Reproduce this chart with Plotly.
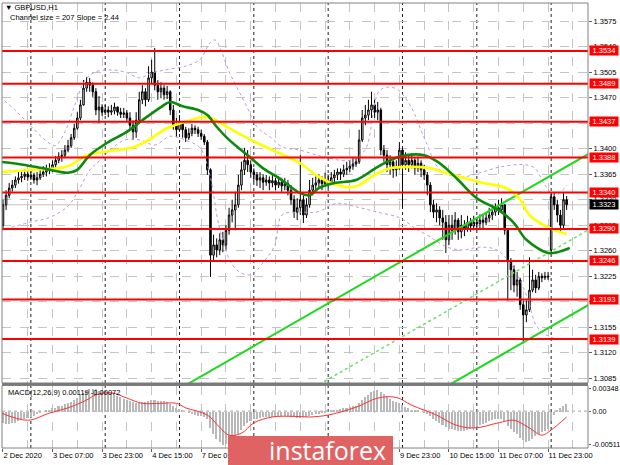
import plotly.graph_objects as go

FONT = "Tahoma, 'Liberation Sans', Arial, sans-serif"

symbol_title = "\u25BC GBPUSD,H1"
channel_text = "Channel size = 207 Slope = 2.44"
macd_text = "MACD(12,26,9) 0.00119 -0.00072"
watermark_text = "instaforex"

x_tick_bars = [0, 16, 32, 48, 64, 80, 96, 112, 128, 144, 160, 176]
x_tick_labels = ["2 Dec 2020", "3 Dec 07:00", "3 Dec 23:00", "4 Dec 15:00", "7 Dec 07:00",
                 "7 Dec 23:00", "8 Dec 15:00", "9 Dec 07:00", "9 Dec 23:00", "10 Dec 15:00",
                 "11 Dec 07:00", "11 Dec 23:00"]
minor_grid_bars = [8, 24, 40, 56, 72, 88, 104, 120, 136, 152, 168, 184]
day_bars = [9, 33, 57, 81, 105, 129, 153, 177]

price_ticks = [1.3575, 1.3540, 1.3505, 1.3470, 1.3435, 1.3400, 1.3365, 1.3330, 1.3295,
               1.3260, 1.3225, 1.3190, 1.3155, 1.3120, 1.3085]
levels = [1.3534, 1.3489, 1.3437, 1.3388, 1.3340, 1.3290, 1.3246, 1.3193, 1.3139]
last_price = 1.3323

macd_ticks = [0.00348, 0.0, -0.00511]
macd_tick_text = ["0.00348", "0.00", "-0.00511"]

opens = [
    1.3295, 1.3323, 1.3336, 1.3346, 1.3350, 1.3357, 1.3360, 1.3362, 1.3365, 1.3361,
    1.3364, 1.3357, 1.3360, 1.3365, 1.3368, 1.3371, 1.3373, 1.3378, 1.3384, 1.3389,
    1.3391, 1.3398, 1.3404, 1.3415, 1.3428, 1.3442, 1.3460, 1.3483, 1.3491, 1.3487,
    1.3478, 1.3453, 1.3457, 1.3450, 1.3453, 1.3450, 1.3452, 1.3457, 1.3450, 1.3447,
    1.3449, 1.3442, 1.3432, 1.3423, 1.3439, 1.3467, 1.3478, 1.3467, 1.3497, 1.3505,
    1.3487, 1.3478, 1.3483, 1.3474, 1.3478, 1.3453, 1.3432, 1.3426, 1.3437, 1.3426,
    1.3415, 1.3421, 1.3428, 1.3426, 1.3421, 1.3417, 1.3409, 1.3371, 1.3254, 1.3268,
    1.3261, 1.3275, 1.3268, 1.3288, 1.3309, 1.3316, 1.3323, 1.3350, 1.3371, 1.3384,
    1.3378, 1.3368, 1.3364, 1.3357, 1.3360, 1.3354, 1.3357, 1.3353, 1.3356, 1.3350,
    1.3354, 1.3349, 1.3352, 1.3343, 1.3330, 1.3313, 1.3319, 1.3330, 1.3309, 1.3323,
    1.3343, 1.3350, 1.3353, 1.3357, 1.3352, 1.3357, 1.3354, 1.3360, 1.3364, 1.3368,
    1.3365, 1.3371, 1.3373, 1.3376, 1.3379, 1.3382, 1.3412, 1.3442, 1.3446, 1.3453,
    1.3460, 1.3450, 1.3453, 1.3398, 1.3391, 1.3378, 1.3382, 1.3371, 1.3373, 1.3398,
    1.3378, 1.3384, 1.3378, 1.3384, 1.3373, 1.3380, 1.3371, 1.3364, 1.3350, 1.3323,
    1.3313, 1.3316, 1.3305, 1.3299, 1.3275, 1.3295, 1.3288, 1.3302, 1.3286, 1.3295,
    1.3291, 1.3299, 1.3294, 1.3299, 1.3297, 1.3302, 1.3299, 1.3305, 1.3309, 1.3313,
    1.3319, 1.3316, 1.3323, 1.3288, 1.3245, 1.3234, 1.3213, 1.3220, 1.3186, 1.3172,
    1.3179, 1.3206, 1.3220, 1.3209, 1.3225, 1.3223, 1.3225, 1.3261, 1.3334, 1.3323,
    1.3309, 1.3295, 1.3330]

highs = [
    1.3330, 1.3343, 1.3353, 1.3357, 1.3362, 1.3368, 1.3369, 1.3372, 1.3369, 1.3371,
    1.3367, 1.3368, 1.3371, 1.3376, 1.3378, 1.3380, 1.3384, 1.3390, 1.3395, 1.3398,
    1.3405, 1.3412, 1.3420, 1.3434, 1.3450, 1.3467, 1.3494, 1.3498, 1.3497, 1.3491,
    1.3483, 1.3472, 1.3461, 1.3460, 1.3458, 1.3460, 1.3463, 1.3458, 1.3456, 1.3456,
    1.3453, 1.3450, 1.3439, 1.3450, 1.3478, 1.3487, 1.3483, 1.3513, 1.3522, 1.3538,
    1.3494, 1.3491, 1.3487, 1.3486, 1.3480, 1.3460, 1.3442, 1.3446, 1.3437, 1.3430,
    1.3428, 1.3434, 1.3432, 1.3430, 1.3426, 1.3420, 1.3412, 1.3373, 1.3282, 1.3277,
    1.3284, 1.3286, 1.3295, 1.3319, 1.3330, 1.3341, 1.3364, 1.3382, 1.3401, 1.3398,
    1.3384, 1.3373, 1.3368, 1.3368, 1.3365, 1.3364, 1.3362, 1.3364, 1.3360, 1.3362,
    1.3360, 1.3360, 1.3357, 1.3350, 1.3336, 1.3332, 1.3391, 1.3336, 1.3332, 1.3357,
    1.3360, 1.3362, 1.3365, 1.3362, 1.3367, 1.3364, 1.3368, 1.3371, 1.3373, 1.3373,
    1.3378, 1.3382, 1.3384, 1.3387, 1.3387, 1.3426, 1.3453, 1.3460, 1.3467, 1.3478,
    1.3467, 1.3464, 1.3456, 1.3405, 1.3398, 1.3391, 1.3384, 1.3384, 1.3409, 1.3401,
    1.3395, 1.3391, 1.3394, 1.3387, 1.3389, 1.3384, 1.3378, 1.3368, 1.3354, 1.3330,
    1.3325, 1.3321, 1.3316, 1.3309, 1.3309, 1.3309, 1.3313, 1.3305, 1.3309, 1.3302,
    1.3308, 1.3305, 1.3308, 1.3306, 1.3310, 1.3309, 1.3313, 1.3319, 1.3323, 1.3325,
    1.3330, 1.3332, 1.3323, 1.3291, 1.3250, 1.3240, 1.3231, 1.3223, 1.3192, 1.3192,
    1.3251, 1.3234, 1.3227, 1.3231, 1.3229, 1.3231, 1.3231, 1.3339, 1.3339, 1.3330,
    1.3316, 1.3339, 1.3335]

lows = [
    1.3288, 1.3316, 1.3332, 1.3341, 1.3346, 1.3352, 1.3354, 1.3357, 1.3356, 1.3357,
    1.3352, 1.3350, 1.3357, 1.3361, 1.3362, 1.3365, 1.3368, 1.3373, 1.3380, 1.3382,
    1.3387, 1.3395, 1.3401, 1.3412, 1.3426, 1.3439, 1.3459, 1.3478, 1.3478, 1.3471,
    1.3446, 1.3435, 1.3445, 1.3446, 1.3443, 1.3446, 1.3447, 1.3445, 1.3442, 1.3442,
    1.3437, 1.3426, 1.3412, 1.3415, 1.3434, 1.3461, 1.3458, 1.3464, 1.3489, 1.3480,
    1.3467, 1.3469, 1.3467, 1.3468, 1.3446, 1.3426, 1.3416, 1.3423, 1.3415, 1.3409,
    1.3412, 1.3417, 1.3420, 1.3416, 1.3412, 1.3405, 1.3364, 1.3224, 1.3247, 1.3251,
    1.3254, 1.3258, 1.3261, 1.3282, 1.3299, 1.3288, 1.3319, 1.3343, 1.3364, 1.3368,
    1.3360, 1.3354, 1.3349, 1.3346, 1.3343, 1.3349, 1.3343, 1.3347, 1.3343, 1.3346,
    1.3341, 1.3343, 1.3336, 1.3323, 1.3305, 1.3302, 1.3309, 1.3298, 1.3305, 1.3319,
    1.3336, 1.3343, 1.3346, 1.3343, 1.3349, 1.3346, 1.3352, 1.3354, 1.3357, 1.3357,
    1.3361, 1.3364, 1.3368, 1.3371, 1.3375, 1.3379, 1.3409, 1.3432, 1.3439, 1.3442,
    1.3442, 1.3439, 1.3391, 1.3382, 1.3368, 1.3364, 1.3360, 1.3362, 1.3371, 1.3320,
    1.3371, 1.3368, 1.3373, 1.3364, 1.3368, 1.3361, 1.3357, 1.3336, 1.3313, 1.3305,
    1.3299, 1.3295, 1.3275, 1.3257, 1.3268, 1.3275, 1.3282, 1.3275, 1.3277, 1.3280,
    1.3286, 1.3286, 1.3288, 1.3288, 1.3291, 1.3291, 1.3295, 1.3299, 1.3302, 1.3308,
    1.3309, 1.3313, 1.3282, 1.3192, 1.3206, 1.3203, 1.3197, 1.3179, 1.3133, 1.3162,
    1.3176, 1.3203, 1.3202, 1.3206, 1.3217, 1.3220, 1.3220, 1.3258, 1.3316, 1.3299,
    1.3286, 1.3291, 1.3316]

closes = [
    1.3323, 1.3336, 1.3346, 1.3350, 1.3357, 1.3360, 1.3362, 1.3365, 1.3361, 1.3364,
    1.3357, 1.3360, 1.3365, 1.3368, 1.3371, 1.3373, 1.3378, 1.3384, 1.3389, 1.3391,
    1.3398, 1.3404, 1.3415, 1.3428, 1.3442, 1.3460, 1.3483, 1.3491, 1.3487, 1.3478,
    1.3453, 1.3457, 1.3450, 1.3453, 1.3450, 1.3452, 1.3457, 1.3450, 1.3447, 1.3449,
    1.3442, 1.3432, 1.3423, 1.3439, 1.3467, 1.3478, 1.3467, 1.3497, 1.3505, 1.3487,
    1.3478, 1.3483, 1.3474, 1.3478, 1.3453, 1.3432, 1.3426, 1.3437, 1.3426, 1.3415,
    1.3421, 1.3428, 1.3426, 1.3421, 1.3417, 1.3409, 1.3371, 1.3254, 1.3268, 1.3261,
    1.3275, 1.3268, 1.3288, 1.3309, 1.3316, 1.3323, 1.3350, 1.3371, 1.3384, 1.3378,
    1.3368, 1.3364, 1.3357, 1.3360, 1.3354, 1.3357, 1.3353, 1.3356, 1.3350, 1.3354,
    1.3349, 1.3352, 1.3343, 1.3330, 1.3313, 1.3319, 1.3330, 1.3309, 1.3323, 1.3343,
    1.3350, 1.3353, 1.3357, 1.3352, 1.3357, 1.3354, 1.3360, 1.3364, 1.3368, 1.3365,
    1.3371, 1.3373, 1.3376, 1.3379, 1.3382, 1.3412, 1.3442, 1.3446, 1.3453, 1.3460,
    1.3450, 1.3453, 1.3398, 1.3391, 1.3378, 1.3382, 1.3371, 1.3373, 1.3398, 1.3378,
    1.3384, 1.3378, 1.3384, 1.3373, 1.3380, 1.3371, 1.3364, 1.3350, 1.3323, 1.3313,
    1.3316, 1.3305, 1.3299, 1.3275, 1.3295, 1.3288, 1.3302, 1.3286, 1.3295, 1.3291,
    1.3299, 1.3294, 1.3299, 1.3297, 1.3302, 1.3299, 1.3305, 1.3309, 1.3313, 1.3319,
    1.3316, 1.3323, 1.3288, 1.3245, 1.3234, 1.3213, 1.3220, 1.3186, 1.3172, 1.3179,
    1.3206, 1.3220, 1.3209, 1.3225, 1.3223, 1.3225, 1.3224, 1.3334, 1.3323, 1.3309,
    1.3295, 1.3330, 1.3323]

bar_index = list(range(len(closes)))

# moving averages (sampled along the chart)
yellow_bars = [-1, 10, 21, 27, 35, 42, 47, 53, 59, 64, 67, 73, 80, 87, 96, 101, 106, 112,
               115, 120, 125, 131, 138, 143, 154, 163, 167, 170, 176, 182]
yellow_vals = [1.3368, 1.3371, 1.3376, 1.3391, 1.3397, 1.3402, 1.3412, 1.3428, 1.3437, 1.3443,
               1.3442, 1.3428, 1.3412, 1.3398, 1.3380, 1.3364, 1.3353, 1.3347, 1.3350, 1.3364,
               1.3373, 1.3375, 1.3373, 1.3367, 1.3354, 1.3345, 1.3330, 1.3309, 1.3292, 1.3283]
green_bars = [-1, 5, 13, 21, 24, 28, 34, 40, 45, 51, 54, 58, 63, 66, 69, 73, 79, 84, 89, 96,
              99, 102, 107, 114, 121, 128, 136, 141, 147, 153, 160, 165, 169, 176, 179, 183]
green_vals = [1.3382, 1.3379, 1.3373, 1.3367, 1.3371, 1.3391, 1.3409, 1.3423, 1.3439, 1.3457,
              1.3464, 1.3458, 1.3453, 1.3446, 1.3430, 1.3412, 1.3391, 1.3373, 1.3360, 1.3339,
              1.3336, 1.3346, 1.3353, 1.3357, 1.3375, 1.3389, 1.3391, 1.3380, 1.3357, 1.3332,
              1.3316, 1.3298, 1.3275, 1.3257, 1.3258, 1.3264]

# envelope bands
band_up_bars = [-1, 3.9, 8.7, 13.6, 16.8, 20, 23.2, 26.5, 29.7, 34.5, 39.4, 44.2, 47.5, 52.3,
                58.8, 63.6, 66.8, 68.5, 73.3, 78.8, 82, 86.2, 90.4, 95.9, 103.3, 112, 116.9,
                121.7, 126.6, 131.4, 136.3, 141.1, 147.6, 154, 160.5, 168.5, 171.8, 175, 178.2, 182.1]
band_up_vals = [1.3471, 1.3453, 1.3432, 1.3412, 1.3404, 1.3423, 1.3460, 1.3494, 1.3505, 1.3508,
                1.3505, 1.3497, 1.3503, 1.3508, 1.3513, 1.3522, 1.3545, 1.3549, 1.3503, 1.3457,
                1.3430, 1.3416, 1.3402, 1.3398, 1.3389, 1.3384, 1.3398, 1.3480, 1.3483, 1.3460,
                1.3412, 1.3371, 1.3361, 1.3367, 1.3375, 1.3378, 1.3373, 1.3350, 1.3336, 1.3350]
band_lo_bars = [-1, 8.7, 15.2, 20.7, 23.9, 28.1, 31.3, 34.5, 39.4, 44.2, 49.1, 53.9, 58.8,
                63.6, 66.8, 70.1, 74.9, 79.8, 84.6, 87.8, 90.1, 95.9, 101.4, 107.8, 114.3,
                120.8, 128.2, 133, 137.9, 143.4, 148.5, 154, 159.5, 164.7, 169.2, 172.4, 176.6, 182.1]
band_lo_vals = [1.3288, 1.3299, 1.3306, 1.3320, 1.3339, 1.3371, 1.3384, 1.3398, 1.3412, 1.3412,
                1.3405, 1.3417, 1.3412, 1.3401, 1.3364, 1.3288, 1.3236, 1.3227, 1.3247, 1.3268,
                1.3309, 1.3313, 1.3313, 1.3325, 1.3320, 1.3313, 1.3305, 1.3291, 1.3279, 1.3265,
                1.3261, 1.3265, 1.3261, 1.3237, 1.3197, 1.3156, 1.3142, 1.3138]

# regression channel
channel_bars = [55, 190]
channel_upper = [1.3066, 1.3395]
channel_mid = [1.2962, 1.3291]
channel_lower = [1.2859, 1.3188]

# MACD
macd_hist = [
    -0.0018, -0.0019, -0.0019, -0.0018, -0.0017, -0.0015,
    -0.0013, -0.0011, -0.0010, -0.0008, -0.0006,
    -0.0004, -0.0002, 0.0000,
    0.0002, 0.0003, 0.0005, 0.0006, 0.0008, 0.0009, 0.0011,
    0.0013, 0.0015, 0.0018, 0.0021, 0.0025, 0.0029, 0.0032,
    0.0034, 0.0035, 0.0034, 0.0032, 0.0031, 0.0030, 0.0029, 0.0028,
    0.0026, 0.0024, 0.0022, 0.0020, 0.0018, 0.0016, 0.0014, 0.0013, 0.0013, 0.0014, 0.0015,
    0.0017, 0.0018, 0.0018, 0.0017, 0.0016, 0.0016, 0.0014, 0.0012,
    0.0009, 0.0006, 0.0004, 0.0002, 0.0000, -0.0002,
    -0.0004, -0.0005, -0.0006, -0.0007, -0.0008,
    -0.0012, -0.0025, -0.0035, -0.0042, -0.0047, -0.0051, -0.0050, -0.0048, -0.0045,
    -0.0040, -0.0034, -0.0028, -0.0022, -0.0017, -0.0014,
    -0.0012, -0.0011, -0.0010, -0.0009, -0.0009, -0.0008, -0.0008, -0.0008, -0.0007, -0.0007,
    -0.0007, -0.0007, -0.0008, -0.0009, -0.0010, -0.0010, -0.0009, -0.0008, -0.0007,
    -0.0005, -0.0004, -0.0003, -0.0002, -0.0001, 0.0000,
    0.0001, 0.0002, 0.0003, 0.0004, 0.0005, 0.0006, 0.0007, 0.0008, 0.0009,
    0.0013, 0.0018, 0.0022, 0.0026, 0.0030, 0.0032, 0.0033, 0.0030,
    0.0027, 0.0024, 0.0020, 0.0017, 0.0015, 0.0013, 0.0010, 0.0007,
    0.0005, 0.0003, 0.0002, 0.0001, 0.0000, -0.0001, -0.0003,
    -0.0007, -0.0011, -0.0014, -0.0017, -0.0020, -0.0024, -0.0026, -0.0027, -0.0028, -0.0029,
    -0.0029, -0.0029, -0.0028,
    -0.0027, -0.0025, -0.0023, -0.0021, -0.0019, -0.0017, -0.0015, -0.0013, -0.0012, -0.0011,
    -0.0011, -0.0015, -0.0022, -0.0027, -0.0032, -0.0035, -0.0040, -0.0044, -0.0046, -0.0045,
    -0.0042, -0.0038, -0.0035, -0.0032, -0.0029, -0.0027,
    -0.0015, -0.0005, 0.0002, 0.0005, 0.0009, 0.0012]
signal_bars = [-1, 8, 15, 21, 27, 30, 35, 40, 45, 51, 56, 59, 66, 70, 73, 77, 81, 87, 94, 99,
               105, 114, 121, 127, 132, 140, 146, 152, 160, 165, 170, 174, 177, 182]
signal_vals = [-0.0002, -0.0014, -0.0003, 0.0005, 0.0017, 0.0025, 0.0028, 0.0020, 0.0012, 0.0012,
               0.0012, 0.0005, -0.0006, -0.0025, -0.0037, -0.0034, -0.0018, -0.0009, -0.0008, -0.0009,
               -0.0006, 0.0006, 0.0020, 0.0021, 0.0009, -0.0006, -0.0021, -0.0026, -0.0018, -0.0014,
               -0.0026, -0.0037, -0.0029, -0.0009]

# ---------------------------------------------------------------- layout constants
W, H = 620, 465
ML, MR, MT, MB = 2, 32, 3, 17
PW, PH = W - ML - MR, H - MT - MB
MAIN_DOM = [0.1461, 1.0]
MACD_DOM = [0.0, 0.1404]
X_RANGE = [-0.32, 188.9]
Y_RANGE = [1.30787, 1.35997]
Y2_RANGE = [-0.00566, 0.00393]
GRID = "#c4c4c4"
TXT = "#000000"
BAND = "#bf96e0"


def px(xp):
    return (xp - ML) / PW


def py(yp):
    return (H - MB - yp) / PH


fig = go.Figure()

# bands
fig.add_trace(go.Scatter(x=band_up_bars, y=band_up_vals, mode="lines",
                         line=dict(color=BAND, width=1, dash="dot", shape="spline"),
                         hoverinfo="skip", showlegend=False))
fig.add_trace(go.Scatter(x=band_lo_bars, y=band_lo_vals, mode="lines",
                         line=dict(color=BAND, width=1, dash="dot", shape="spline"),
                         hoverinfo="skip", showlegend=False))

# channel lines
fig.add_trace(go.Scatter(x=channel_bars, y=channel_mid, mode="lines",
                         line=dict(color="#66e066", width=1.5, dash="dot"),
                         hoverinfo="skip", showlegend=False))
fig.add_trace(go.Scatter(x=channel_bars, y=channel_upper, mode="lines",
                         line=dict(color="#1fd81f", width=2),
                         hoverinfo="skip", showlegend=False))
fig.add_trace(go.Scatter(x=channel_bars, y=channel_lower, mode="lines",
                         line=dict(color="#1fd81f", width=2),
                         hoverinfo="skip", showlegend=False))

# candles
fig.add_trace(go.Candlestick(
    x=bar_index, open=opens, high=highs, low=lows, close=closes,
    increasing=dict(line=dict(color="black", width=1), fillcolor="white"),
    decreasing=dict(line=dict(color="black", width=1), fillcolor="black"),
    whiskerwidth=0, showlegend=False, hoverinfo="skip"))

# moving averages
fig.add_trace(go.Scatter(x=yellow_bars, y=yellow_vals, mode="lines",
                         line=dict(color="#ffff00", width=2.6, shape="spline"),
                         hoverinfo="skip", showlegend=False))
fig.add_trace(go.Scatter(x=green_bars, y=green_vals, mode="lines",
                         line=dict(color="#0b8a0b", width=2.6, shape="spline"),
                         hoverinfo="skip", showlegend=False))

# MACD
fig.add_trace(go.Bar(x=bar_index, y=macd_hist, yaxis="y2", width=0.5,
                     marker=dict(color="#b8b8b8", line=dict(width=0)),
                     hoverinfo="skip", showlegend=False))
fig.add_trace(go.Scatter(x=signal_bars, y=signal_vals, yaxis="y2", mode="lines",
                         line=dict(color="#ff3030", width=1, shape="spline"),
                         hoverinfo="skip", showlegend=False))

shapes = []
# day separators
for b in day_bars:
    for ref in ("y domain", "y2 domain"):
        shapes.append(dict(type="line", xref="x", yref=ref, x0=b, x1=b, y0=0, y1=1,
                           line=dict(color="#202020", width=1, dash="dot"), layer="below"))
# bid line
shapes.append(dict(type="line", xref="x domain", yref="y", x0=0, x1=1, y0=last_price,
                   y1=last_price, line=dict(color="#c0c0c0", width=1), layer="below"))
# MACD zero line
shapes.append(dict(type="line", xref="x domain", yref="y2", x0=0, x1=1, y0=0, y1=0,
                   line=dict(color="#a0a0a0", width=1, dash="dot"), layer="below"))
# horizontal levels
for lv in levels:
    shapes.append(dict(type="line", xref="x domain", yref="y", x0=0, x1=1, y0=lv, y1=lv,
                       line=dict(color="#ff0000", width=2), layer="above"))
# panel borders
shapes.append(dict(type="rect", xref="paper", yref="paper", x0=0, x1=1,
                   y0=MAIN_DOM[0], y1=MAIN_DOM[1], line=dict(color="#808080", width=1),
                   layer="above"))
shapes.append(dict(type="rect", xref="paper", yref="paper", x0=0, x1=1,
                   y0=MACD_DOM[0], y1=MACD_DOM[1], line=dict(color="#808080", width=1),
                   layer="above"))
shapes.append(dict(type="rect", xref="paper", yref="paper", x0=0, x1=1,
                   y0=MACD_DOM[1], y1=MAIN_DOM[0], line=dict(width=0),
                   fillcolor="#7a7a7a", layer="above"))
# watermark
shapes.append(dict(type="rect", xref="paper", yref="paper", x0=px(228), x1=px(393),
                   y0=py(472), y1=py(436), line=dict(width=0), fillcolor="#e06363",
                   layer="above"))

annotations = [
    dict(xref="paper", yref="paper", x=px(3), y=py(7), xanchor="left", yanchor="middle",
         text=symbol_title, showarrow=False, font=dict(family=FONT, size=7.5, color=TXT)),
    dict(xref="paper", yref="paper", x=px(8), y=py(17.5), xanchor="left", yanchor="middle",
         text=channel_text, showarrow=False, font=dict(family=FONT, size=7.5, color=TXT)),
    dict(xref="paper", yref="paper", x=px(6), y=py(392), xanchor="left", yanchor="middle",
         text=macd_text, showarrow=False, font=dict(family=FONT, size=7.5, color=TXT)),
    dict(xref="paper", yref="paper", x=px(327), y=py(450), xanchor="center", yanchor="middle",
         text=watermark_text, showarrow=False,
         font=dict(family="'Open Sans', Lato, sans-serif", size=25, color="white")),
]
for lv in levels:
    annotations.append(dict(xref="paper", yref="y", x=1, y=lv, xanchor="left", yanchor="middle",
                            xshift=1, text=f"{lv:.4f}", showarrow=False, bgcolor="#ff0000",
                            width=28, height=9, borderpad=0,
                            font=dict(family=FONT, size=7.5, color="white")))
annotations.append(dict(xref="paper", yref="y", x=1, y=last_price, xanchor="left",
                        yanchor="middle", xshift=1, text=f"{last_price:.4f}", showarrow=False,
                        bgcolor="#000000", width=28, height=9, borderpad=0,
                        font=dict(family=FONT, size=7.5, color="white")))

fig.update_layout(
    width=W, height=H, margin=dict(l=ML, r=MR, t=MT, b=MB, autoexpand=False),
    paper_bgcolor="white", plot_bgcolor="white", showlegend=False, bargap=0,
    font=dict(family=FONT, size=7.5, color=TXT),
    xaxis=dict(domain=[0, 1], range=X_RANGE, anchor="y2", tickmode="array",
               tickvals=x_tick_bars, ticktext=x_tick_labels, ticks="outside", ticklen=3,
               tickcolor="#606060", ticklabelposition="outside right", tickangle=0,
               automargin=False,
               tickfont=dict(family=FONT, size=7.5, color=TXT),
               showgrid=True, gridcolor=GRID, griddash="dash", gridwidth=1,
               minor=dict(tickmode="array", tickvals=minor_grid_bars, showgrid=True,
                          gridcolor=GRID, griddash="dash", gridwidth=1, ticks=""),
               zeroline=False, showline=False, rangeslider=dict(visible=False),
               fixedrange=True),
    yaxis=dict(domain=MAIN_DOM, range=Y_RANGE, anchor="x", side="right", tickmode="array",
               tickvals=price_ticks, ticktext=[f"{v:.4f}" for v in price_ticks],
               ticks="outside", ticklen=3, tickcolor="#606060", automargin=False,
               tickfont=dict(family=FONT, size=7.5, color=TXT),
               showgrid=True, gridcolor=GRID, griddash="dash", gridwidth=1,
               zeroline=False, showline=False, fixedrange=True),
    yaxis2=dict(domain=MACD_DOM, range=Y2_RANGE, anchor="x", side="right", tickmode="array",
                tickvals=macd_ticks, ticktext=macd_tick_text, ticks="outside", ticklen=2,
                tickcolor="#606060", tickfont=dict(family=FONT, size=7.2, color=TXT),
                automargin=False,
                showgrid=False, zeroline=False, showline=False, fixedrange=True),
    shapes=shapes, annotations=annotations,
)

fig.write_html("out.html", config={"displayModeBar": False},
               post_script="document.body.style.margin='0px';"
                           "document.body.style.overflow='hidden';")
